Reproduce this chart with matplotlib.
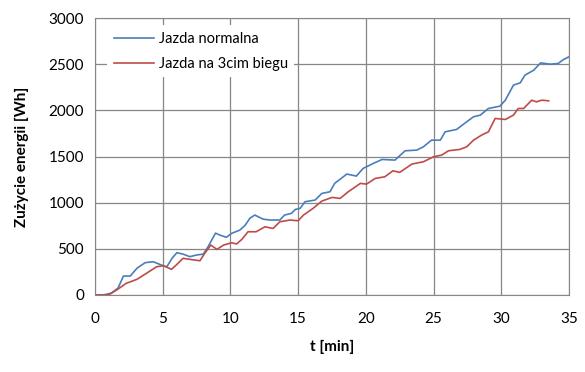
import matplotlib
matplotlib.use('Agg')
import matplotlib.pyplot as plt

t_norm = [0, 0.6, 1.2, 1.7, 2.1, 2.6, 3.1, 3.7, 4.3, 4.9, 5.3, 5.7, 6.05, 6.5, 7.0, 7.5, 8.0,
          8.35, 8.9, 9.2, 9.7, 10.1, 10.7, 11.1, 11.45, 11.8, 12.4, 12.9, 13.65, 14.0, 14.5,
          14.8, 15.15, 15.5, 16.25, 16.75, 17.35, 17.7, 18.6, 19.3, 19.8, 20.55, 21.2, 22.15,
          22.9, 23.75, 24.25, 24.85, 25.5, 25.85, 26.7, 27.45, 27.95, 28.45, 29.05, 29.9, 30.3,
          30.9, 31.4, 31.75, 32.4, 32.9, 33.6, 34.2, 34.6, 35.0]
e_norm = [0, 0, 20, 75, 205, 205, 290, 350, 360, 325, 305, 400, 458, 443, 415, 433, 443,
          523, 670, 650, 625, 668, 703, 758, 833, 866, 822, 812, 812, 866, 884,
          927, 938, 1010, 1028, 1100, 1118, 1209, 1310, 1288, 1371, 1425, 1468, 1461,
          1562, 1569, 1605, 1677, 1677, 1767, 1793, 1876, 1930, 1948, 2020, 2045, 2110,
          2273, 2298, 2381, 2435, 2514, 2500, 2507, 2551, 2580]

t_3bieg = [0, 0.9, 1.1, 1.6, 2.3, 3.1, 3.8, 4.55, 5.05, 5.65, 6.0, 6.5, 7.0, 7.75, 8.1, 8.55,
           9.0, 9.5, 10.1, 10.45, 10.85, 11.3, 11.9, 12.55, 12.9, 13.15, 13.65, 14.4, 15.0,
           15.4, 16.1, 16.75, 17.5, 18.1, 18.7, 19.6, 20.05, 20.7, 21.4, 22.0, 22.5, 23.4,
           24.25, 25.0, 25.6, 26.1, 26.95, 27.45, 27.95, 28.55, 29.05, 29.55, 30.3, 30.9,
           31.25, 31.65, 32.25, 32.6, 33.0, 33.5]
e_3bieg = [0, 0, 10, 54, 126, 170, 235, 306, 317, 278, 325, 397, 386, 371, 451, 541,
           494, 541, 566, 552, 603, 685, 685, 739, 728, 721, 793, 812, 804,
           866, 938, 1017, 1057, 1046, 1118, 1209, 1201, 1263, 1280, 1345, 1328, 1418,
           1443, 1497, 1515, 1562, 1577, 1605, 1677, 1732, 1767, 1912, 1901, 1948,
           2020, 2020, 2110, 2092, 2110, 2103]

plt.rcParams['font.family'] = ['Lato', 'DejaVu Sans']

fig = plt.figure(figsize=(5.85, 3.72), dpi=100)
ax = fig.add_axes([0.1624, 0.207, 0.8102, 0.7446])

ax.plot(t_norm, e_norm, color='#4A7EBB', lw=1.2, label='Jazda normalna')
ax.plot(t_3bieg, e_3bieg, color='#BE4B48', lw=1.2, label='Jazda na 3cim biegu')

ax.set_xlim(0, 35)
ax.set_ylim(0, 3000)
ax.set_xticks(range(0, 36, 5))
ax.set_yticks(range(0, 3001, 500))
ax.grid(True, color='#868686', lw=0.9)
ax.set_axisbelow(True)
for s in ax.spines.values():
    s.set_color('#868686')
ax.tick_params(length=0, labelsize=11, pad=8, colors='black')
ax.tick_params(axis='x', pad=12)

ax.set_xlabel('t [min]', fontsize=11, fontweight='bold', labelpad=10)
ax.set_ylabel('Zużycie energii [Wh]', fontsize=11, fontweight='bold', labelpad=14)

leg = ax.legend(loc='upper left', bbox_to_anchor=(0.01, 1.0), frameon=True, fancybox=False,
                edgecolor='white', facecolor='white', framealpha=1, fontsize=10.5,
                handlelength=2.8, handletextpad=0.3, labelspacing=0.75, borderpad=0.45)
leg.get_frame().set_linewidth(0)

fig.savefig('out.png', dpi=100)
